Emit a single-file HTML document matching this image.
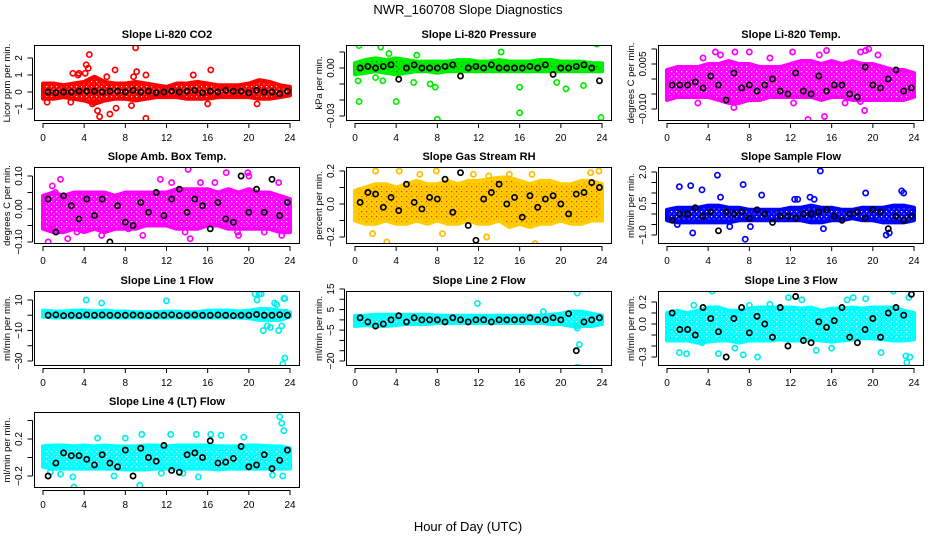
<!DOCTYPE html>
<html><head><meta charset="utf-8"><style>
html,body{margin:0;padding:0;background:#fff;}
svg{display:block;font-family:"Liberation Sans",Arial,sans-serif;}
</style></head><body>
<svg id="chart" width="936" height="540" viewBox="0 0 936 540" xmlns="http://www.w3.org/2000/svg">
<rect width="936" height="540" fill="#fff"/>
<text x="468" y="14" font-size="13" text-anchor="middle">NWR_160708  Slope Diagnostics</text>
<text x="468" y="531" font-size="13" text-anchor="middle">Hour of Day (UTC)</text>
</svg>
<script>
// ---- data ----
const xTicks = [0,4,8,12,16,20,24];
const bandHours = [0,1,2,3,4,5,6,7,8,9,10,11,12,13,14,15,16,17,18,19,20,21,22,23,24];
const blackHours = [0.5,1.25,2,2.75,3.5,4.25,5,5.75,6.5,7.25,8,8.75,9.5,10.25,11,11.75,12.5,13.25,14,14.75,15.5,16.25,17,17.75,18.5,19.25,20,20.75,21.5,22.25,23,23.75];

const co2Hi = [0.5,0.5,0.4,0.5,0.6,0.9,0.6,0.5,0.5,0.6,0.5,0.4,0.3,0.5,0.5,0.6,0.5,0.4,0.4,0.4,0.5,0.7,0.6,0.4,0.3];
const co2Lo = [-0.4,-0.4,-0.3,-0.4,-0.5,-0.7,-0.5,-0.4,-0.4,-0.5,-0.4,-0.3,-0.3,-0.3,-0.4,-0.4,-0.4,-0.3,-0.3,-0.3,-0.3,-0.4,-0.4,-0.3,-0.2];
const co2Black = [0,-0.05,0,0,0.05,0.05,0.05,0,0.05,0.05,0,0.1,0,0.05,-0.05,0,0.05,0,0.05,0.1,-0.05,0.05,0,0.1,0.05,0.05,-0.05,0.1,0,0,-0.1,0.05];
const co2OutH = [4.5,4.2,4.4,9,9.1,2.9,3.5,7,10,14.6,16.3,6.2,5.3,5.5,6.5,7.1,10,4.8,8.6,2.7,20.8,16,0.4,3.4,4.1,8.8];
const co2OutV = [2.2,1.6,1.4,2.6,1.2,1.1,1.1,1.3,1,1,1.3,0.9,-1.1,-1.45,-1.3,-0.95,-1.55,-0.7,-0.8,-0.6,-0.7,-0.7,-0.6,1,1.1,0.9];

const presHi = [0.003,0.005,0.006,0.005,0.006,0.005,0.004,0.004,0.004,0.004,0.005,0.005,0.004,0.004,0.005,0.004,0.004,0.004,0.005,0.005,0.004,0.004,0.004,0.003,0.003];
const presLo = [-0.004,-0.003,-0.002,-0.003,-0.004,-0.003,-0.002,-0.002,-0.003,-0.002,-0.002,-0.002,-0.002,-0.002,-0.002,-0.002,-0.002,-0.002,-0.002,-0.002,-0.002,-0.002,-0.002,-0.002,-0.002];
const presBlack = [0,0.001,0,0.001,0.002,-0.007,0,0.002,0,0,0,0.001,0.002,-0.005,0,0.001,0,0.002,0,0,0,0,0.001,0,0.002,-0.004,0,0,0.001,0.002,0,-0.008];
const presOutH = [0.4,1.7,2.5,9.6,10,13.7,21.2,23.5,0.4,4,8,16,23.9,0.3,2,2.7,5.7,7.3,7.8,16,19.6,20.5,22.2,3.3,6,14.2,18];
const presOutV = [0.014,0.016,0.013,0.019,0.016,0.020,0.020,0.015,-0.021,-0.021,-0.032,-0.028,-0.031,-0.008,-0.006,-0.008,-0.009,-0.010,-0.012,-0.012,-0.009,-0.013,-0.011,0.009,0.008,0.010,0.016];

const tempHi = [0.003,0.004,0.004,0.004,0.005,0.005,0.006,0.005,0.005,0.004,0.004,0.004,0.005,0.006,0.006,0.005,0.006,0.005,0.006,0.005,0.005,0.004,0.003,0.003,0.002];
const tempLo = [-0.007,-0.006,-0.006,-0.006,-0.006,-0.007,-0.008,-0.008,-0.007,-0.007,-0.006,-0.006,-0.006,-0.006,-0.006,-0.007,-0.006,-0.006,-0.007,-0.007,-0.007,-0.007,-0.007,-0.007,-0.006];
const tempBlack = [-0.002,-0.002,-0.002,-0.001,-0.003,0.001,-0.002,-0.007,0.002,-0.003,-0.002,-0.004,-0.002,0,-0.004,-0.005,0.002,-0.004,-0.005,0.001,-0.004,-0.002,-0.002,-0.005,-0.006,0.004,-0.002,-0.003,0,0.003,-0.004,-0.003];
const tempOutH = [4.7,6.6,8,12.2,15.5,19.3,18.8,19.6,3,6.5,12.3,13.7,15.3,17.3,18.8,3.5,10,20.5,14.8,5.2,19.2];
const tempOutV = [0.009,0.009,0.009,0.009,0.0095,0.0095,0.009,0.010,-0.008,-0.0095,-0.008,-0.0135,-0.0125,-0.008,-0.0075,0.007,0.007,0.008,0.008,0.008,-0.0105];

const boxHi = [0.04,0.05,0.04,0.05,0.05,0.05,0.05,0.04,0.05,0.05,0.05,0.05,0.05,0.06,0.06,0.06,0.06,0.05,0.06,0.05,0.06,0.05,0.05,0.04,0.03];
const boxLo = [-0.06,-0.07,-0.07,-0.06,-0.07,-0.06,-0.07,-0.06,-0.06,-0.06,-0.05,-0.05,-0.05,-0.06,-0.06,-0.06,-0.05,-0.05,-0.06,-0.06,-0.06,-0.06,-0.06,-0.07,-0.07];
const boxBlack = [0.03,-0.07,0.04,0.01,-0.03,0.03,-0.02,0.03,-0.1,0.01,-0.04,-0.05,0.02,-0.01,0.05,-0.02,0.03,0.06,-0.01,0.03,0.01,-0.06,0.02,-0.03,-0.04,0.1,-0.01,0.06,-0.01,0.09,-0.02,0.02];
const boxOutH = [0.5,1.7,14.1,17.8,19.9,20,2.4,0.7,8.3,9.7,13.8,14.3,23.2,0.9,3.3,5.7,12.5,15.3,16.7,18.9,21.5,22.9,1.2,11.4,19];
const boxOutV = [-0.1,0.09,0.12,0.11,0.11,0.1,-0.09,-0.06,-0.06,-0.08,-0.07,-0.09,-0.08,0.07,-0.07,-0.08,0.08,0.08,0.08,-0.07,-0.07,0.08,0.05,0.09,-0.08];

const rhHi = [0.08,0.1,0.12,0.12,0.1,0.12,0.14,0.12,0.12,0.14,0.12,0.14,0.14,0.15,0.16,0.16,0.14,0.12,0.14,0.14,0.12,0.12,0.14,0.14,0.12];
const rhLo = [-0.1,-0.12,-0.12,-0.1,-0.12,-0.12,-0.1,-0.12,-0.1,-0.12,-0.12,-0.1,-0.12,-0.12,-0.1,-0.14,-0.12,-0.14,-0.12,-0.12,-0.1,-0.12,-0.12,-0.1,-0.1];
const rhBlack = [0.01,0.07,0.06,-0.02,0.04,-0.04,0.12,0.01,-0.03,0.04,0.03,0.15,-0.05,0.19,-0.13,-0.22,0.03,0.07,0.12,0,0.04,-0.08,0.05,-0.02,0.03,0.05,0,-0.06,0.06,0.07,0.13,0.1];
const rhOutH = [2,1.7,3.1,6.3,13,17.5,12.8,23.7,0.4,7.9,11.5,15,17.2,22.9,8.5,4.3];
const rhOutV = [0.2,-0.18,-0.23,0.18,0.17,-0.24,-0.2,0.2,0.08,0.2,0.18,0.18,0.18,0.19,-0.18,0.2];

const sfHi = [0.2,0.3,0.3,0.3,0.4,0.4,0.3,0.3,0.2,0.2,0.2,0.2,0.3,0.3,0.4,0.3,0.3,0.2,0.2,0.3,0.3,0.3,0.4,0.4,0.3];
const sfLo = [-0.3,-0.4,-0.4,-0.4,-0.4,-0.4,-0.4,-0.3,-0.3,-0.3,-0.3,-0.3,-0.3,-0.3,-0.4,-0.4,-0.3,-0.3,-0.2,-0.3,-0.3,-0.4,-0.4,-0.4,-0.3];
const sfBlack = [-0.3,0,0,0.3,-0.1,0.1,-0.8,0.1,0,0.1,-0.2,0.2,0,-0.4,-0.1,-0.1,-0.2,0,0,0.1,0.2,-0.1,-0.3,0,0.1,-0.2,0.2,0.1,-0.7,-0.1,-0.3,-0.1];
const sfOutH = [1.2,2.3,3.4,4.9,7.4,9.2,14.9,5.2,12.7,13.9,19.3,22.8,23,7.6,2.5,1,8.1,12.4,14.3,15.2,21.3,21.6,6.1];
const sfOutV = [1.3,1.35,1.15,1.85,1.4,0.9,2.05,0.8,0.7,0.8,1,1.1,1,-1.2,-0.9,-0.5,-0.6,0.7,0.7,-0.7,-1,-0.9,-0.6];

const l1Hi = [3,2.5,2.5,3,3,2.5,3,2.5,2.5,2,2,2,2.5,2.5,2,2,3,3,3,2.5,3,4,4,3,2];
const l1Lo = [-1,-1.5,-1.5,-1.5,-1.5,-1.5,-1.5,-1.5,-1.5,-1.5,-1.5,-1.5,-1.5,-1.5,-1.5,-1.5,-1.5,-1.5,-1.5,-1.5,-2,-3,-3,-3,-1];
const l1Black = [0,0.3,-0.3,0,-0.2,0.3,0,0.2,0,0,0,0.2,0,-0.2,0,0,0.3,-0.2,0,0.2,0,0,0.2,0,-0.3,0,0,0.5,0,0,0.3,0];
const l1OutH = [4.2,5.7,12,20.6,20.8,21,21.2,22.5,22.7,23.4,23.5,21.4,22.9,23.2,23.3,23.5,21.8,22.1,23.6];
const l1OutV = [10,8,9.5,14,10,14,14,8,7,11,11,-10,-10,-7,-32,-28,-7,-8,2];

const l2Hi = [2,2,2.5,2.5,2.5,2.5,2.5,2.5,2,2,2,2,2,2,2,2,2,2,2,2.5,3,4,4,3,2];
const l2Lo = [-3,-2.5,-3,-3,-2.5,-2,-2,-2,-1.5,-1.5,-1.5,-1.5,-1.5,-1.5,-1.5,-1.5,-1.5,-1.5,-1.5,-2,-2,-3,-3,-3,-2];
const l2Black = [1,-1,-3,-2,0,2,-1,1,0,0,0,-1,1,0,-1,0,0,-1,0,0,0,0,1,0,0,1,0,3,-15,-1,0,1];
const l2OutH = [11.9,21.6,21.6,21.8,21.5,18.3,21.6];
const l2OutV = [8,13,-23,-12,-3,4,-4];

const l3Hi = [0.1,0.12,0.1,0.12,0.15,0.15,0.12,0.12,0.14,0.15,0.15,0.15,0.15,0.14,0.15,0.12,0.14,0.14,0.15,0.14,0.15,0.15,0.15,0.12,0.1];
const l3Lo = [-0.15,-0.15,-0.15,-0.17,-0.16,-0.15,-0.15,-0.17,-0.15,-0.15,-0.15,-0.14,-0.15,-0.15,-0.14,-0.15,-0.16,-0.15,-0.14,-0.13,-0.13,-0.14,-0.15,-0.15,-0.14];
const l3Black = [0.1,-0.05,-0.05,-0.1,0.15,0.05,-0.07,-0.3,0.05,0.15,-0.08,0.07,0,-0.12,0.15,-0.2,0.25,-0.15,-0.17,0.02,-0.03,0.03,0.15,-0.12,-0.17,-0.05,0.05,-0.12,0.1,0.15,0.08,0.27];
const l3OutH = [4.4,11.8,13.1,19.3,22,23.5,1.2,1.9,5,6.6,7.4,8.8,14.5,16,20.8,23.2,23.3,23.6,8,10,17.5,18.1,3.4,2.6];
const l3OutV = [0.3,0.24,0.22,0.23,0.3,0.24,-0.26,-0.27,-0.27,-0.22,-0.28,-0.3,-0.24,-0.22,-0.26,-0.29,-0.35,-0.3,0.17,0.18,0.22,0.24,-0.17,0.17];

const l4Hi = [0.12,0.13,0.13,0.12,0.13,0.12,0.13,0.12,0.12,0.12,0.13,0.13,0.12,0.13,0.13,0.13,0.13,0.12,0.12,0.12,0.13,0.13,0.12,0.12,0.1];
const l4Lo = [-0.1,-0.12,-0.12,-0.12,-0.12,-0.12,-0.12,-0.12,-0.13,-0.13,-0.13,-0.12,-0.12,-0.12,-0.12,-0.12,-0.12,-0.13,-0.12,-0.12,-0.12,-0.12,-0.12,-0.12,-0.12];
const l4Black = [-0.2,-0.06,0.05,0.02,0.02,-0.02,-0.08,0.03,-0.06,-0.1,0.08,-0.2,0.1,0,-0.04,0.13,-0.14,-0.16,0.03,0.05,0,0.18,-0.06,-0.05,-0.01,0.12,-0.1,-0.08,0.03,-0.12,-0.03,0.08];
const l4OutH = [23,23.2,23.4,3,9.4,2.9,0.7,1.7,6.9,11.5,13.6,15.1,16.3,17.3,19.5,5.3,8,9.6,14.9,12.4,23.3,22.3];
const l4OutV = [0.44,0.37,0.29,-0.32,-0.3,-0.21,-0.16,-0.18,-0.2,-0.17,-0.17,-0.21,0.25,0.24,0.22,0.21,0.21,0.25,0.25,0.25,-0.2,-0.19];

// ---- layout ----
const panels = [
 {id:'co2',title:'Slope Li-820 CO2',ylab:'Licor ppm per min.',box:[34,45,300,121],m:[0,92,1,75],ticks:[-1,0,1,2],tl:['\u22121','0','1','2'],col:'#ff0000',band:'#ff0000',dot:'#ffffff',hi:co2Hi,lo:co2Lo,bk:co2Black,oh:co2OutH,ov:co2OutV},
 {id:'pressure',title:'Slope Li-820 Pressure',ylab:'kPa per min.',box:[346,45,612,121],m:[0,68,-0.03,116],ticks:[-0.03,-0.02,-0.01,0,0.01],tl:['\u22120.03','','','0.00',''],col:'#00ee00',band:'#00ee00',dot:'#007700',hi:presHi,lo:presLo,bk:presBlack,oh:presOutH,ov:presOutV},
 {id:'temp',title:'Slope Li-820 Temp.',ylab:'degrees C per min.',box:[658,45,924,121],m:[0.005,64,-0.01,109],ticks:[-0.01,-0.005,0,0.005,0.01],tl:['\u22120.010','','','0.005',''],col:'#ff00ff',band:'#ff00ff',dot:'#ffffff',hi:tempHi,lo:tempLo,bk:tempBlack,oh:tempOutH,ov:tempOutV},
 {id:'box-temp',title:'Slope Amb. Box Temp.',ylab:'degrees C per min.',box:[34,167,300,244],m:[0.1,176,-0.1,242],ticks:[-0.1,-0.05,0,0.05,0.1],tl:['\u22120.10','','0.00','','0.10'],col:'#ff00ff',band:'#ff00ff',dot:'#ffffff',hi:boxHi,lo:boxLo,bk:boxBlack,oh:boxOutH,ov:boxOutV},
 {id:'rh',title:'Slope Gas Stream RH',ylab:'percent per min.',box:[346,167,612,244],m:[0.2,171,-0.2,237],ticks:[-0.2,-0.1,0,0.1,0.2],tl:['\u22120.2','','0.0','','0.2'],col:'#ffbb00',band:'#ffcc00',dot:'#ee3300',hi:rhHi,lo:rhLo,bk:rhBlack,oh:rhOutH,ov:rhOutV},
 {id:'sample-flow',title:'Slope Sample Flow',ylab:'ml/min per min.',box:[658,167,924,244],m:[2,172,-1,235],ticks:[-1,-0.5,0,0.5,1,1.5,2],tl:['\u22121.0','','','0.5','','','2.0'],col:'#0000ff',band:'#0000ff',dot:'#ffffff',hi:sfHi,lo:sfLo,bk:sfBlack,oh:sfOutH,ov:sfOutV},
 {id:'line1-flow',title:'Slope Line 1 Flow',ylab:'ml/min per min.',box:[34,291,300,366],m:[10,300,-30,361],ticks:[-30,-20,-10,0,10],tl:['\u221230','','\u221210','','10'],col:'#00eeee',band:'#00ffff',dot:'#ffffff',hi:l1Hi,lo:l1Lo,bk:l1Black,oh:l1OutH,ov:l1OutV},
 {id:'line2-flow',title:'Slope Line 2 Flow',ylab:'ml/min per min.',box:[346,291,612,366],m:[15,289,-20,361],ticks:[-20,-15,-10,-5,0,5,10,15],tl:['\u221220','','','\u22125','','5','','15'],col:'#00eeee',band:'#00ffff',dot:'#ffffff',hi:l2Hi,lo:l2Lo,bk:l2Black,oh:l2OutH,ov:l2OutV},
 {id:'line3-flow',title:'Slope Line 3 Flow',ylab:'ml/min per min.',box:[658,291,924,366],m:[0.2,302,-0.3,357],ticks:[-0.3,-0.2,-0.1,0,0.1,0.2],tl:['\u22120.3','','','0.0','','0.2'],col:'#00eeee',band:'#00ffff',dot:'#ffffff',hi:l3Hi,lo:l3Lo,bk:l3Black,oh:l3OutH,ov:l3OutV},
 {id:'line4-flow',title:'Slope Line 4 (LT) Flow',ylab:'ml/min per min.',box:[34,412,300,488],m:[0.2,439,-0.2,476],ticks:[-0.2,0,0.2,0.4],tl:['\u22120.2','','0.2',''],col:'#00eeee',band:'#00ffff',dot:'#ffffff',hi:l4Hi,lo:l4Lo,bk:l4Black,oh:l4OutH,ov:l4OutV}
];

const NS='http://www.w3.org/2000/svg';
const svg=document.getElementById('chart');
function mk(tag,attrs,parent){const e=document.createElementNS(NS,tag);for(const k in attrs)e.setAttribute(k,attrs[k]);(parent||svg).appendChild(e);return e;}
const defs=mk('defs',{});

panels.forEach(p=>{
  const [L,T,R,B]=p.box;
  const x0=L+9, x24=R-10;
  const xs=h=>x0+h*(x24-x0)/24;
  const ys=v=>p.m[1]+(v-p.m[0])*(p.m[3]-p.m[1])/(p.m[2]-p.m[0]);
  // texture pattern to mimic overlapping open circles
  const pat=mk('pattern',{id:'pat-'+p.id,width:5,height:5,patternUnits:'userSpaceOnUse'},defs);
  mk('rect',{width:5,height:5,fill:p.band},pat);
  mk('rect',{x:1,y:1,width:1.2,height:1.2,fill:p.dot},pat);
  mk('rect',{x:3.5,y:3.5,width:1,height:1,fill:p.dot,opacity:0.7},pat);
  const g=mk('g',{});
  
  
  const cp=mk('clipPath',{id:'clip-'+p.id},g);
  mk('rect',{x:L,y:T,width:R-L,height:B-T},cp);
  const plot=mk('g',{'clip-path':'url(#clip-'+p.id+')'},g);
  
  
  let pts=[];
  bandHours.forEach((h,i)=>pts.push(xs(h)+','+ys(p.hi[i])));
  for(let i=bandHours.length-1;i>=0;i--)pts.push(xs(bandHours[i])+','+ys(p.lo[i]));
  const band=mk('polygon',{points:pts.join(' '),fill:'url(#pat-'+p.id+')',stroke:p.band,'stroke-width':4,'stroke-linejoin':'round'},plot);
  
  
  p.oh.forEach((h,i)=>{
    const c=mk('circle',{cx:xs(h),cy:ys(p.ov[i]),r:2.6,fill:'none',stroke:p.col,'stroke-width':1.7},plot);
    
    
  });
  blackHours.forEach((h,i)=>{
    const c=mk('circle',{cx:xs(h),cy:ys(p.bk[i]),r:2.6,fill:'none',stroke:'#000','stroke-width':1.7},plot);
    
    
  });
  const frame=mk('rect',{x:L+0.5,y:T+0.5,width:R-L-1,height:B-T-1,fill:'none',stroke:'#000','stroke-width':1},g);
  
  
  const tt=mk('text',{x:(L+R)/2,y:T-7,'font-size':11,'font-weight':'bold','text-anchor':'middle'},g);
  tt.textContent=p.title;
  
  
  const ax=mk('g',{},g);
  
  
  const ya=B+2;
  mk('line',{x1:xs(0),x2:xs(24),y1:ya+0.5,y2:ya+0.5,stroke:'#000'},ax);
  xTicks.forEach(t=>{
    mk('line',{x1:xs(t),x2:xs(t),y1:ya,y2:ya+5,stroke:'#000'},ax);
    const tx=mk('text',{x:xs(t),y:B+20,'font-size':10,'text-anchor':'middle'},ax);
    tx.textContent=t;
  });
  const ay=mk('g',{},g);
  
  
  const xa=L-1.5;
  const tys=p.ticks.map(ys);
  mk('line',{x1:xa,x2:xa,y1:Math.min(...tys),y2:Math.max(...tys),stroke:'#000'},ay);
  p.ticks.forEach((t,i)=>{
    const y=ys(t);
    mk('line',{x1:xa-5,x2:xa,y1:y,y2:y,stroke:'#000'},ay);
    if(p.tl[i]){
      const tx=mk('text',{x:0,y:0,'font-size':10,'text-anchor':'middle',transform:'translate('+(L-12)+','+y+') rotate(-90)'},ay);
      tx.textContent=p.tl[i];
    }
  });
  const yl=mk('text',{x:0,y:0,'font-size':9.5,'text-anchor':'middle',transform:'translate('+(L-24)+','+((T+B)/2)+') rotate(-90)'},g);
  yl.textContent=p.ylab;
  
  
});
</script>
</body></html>
